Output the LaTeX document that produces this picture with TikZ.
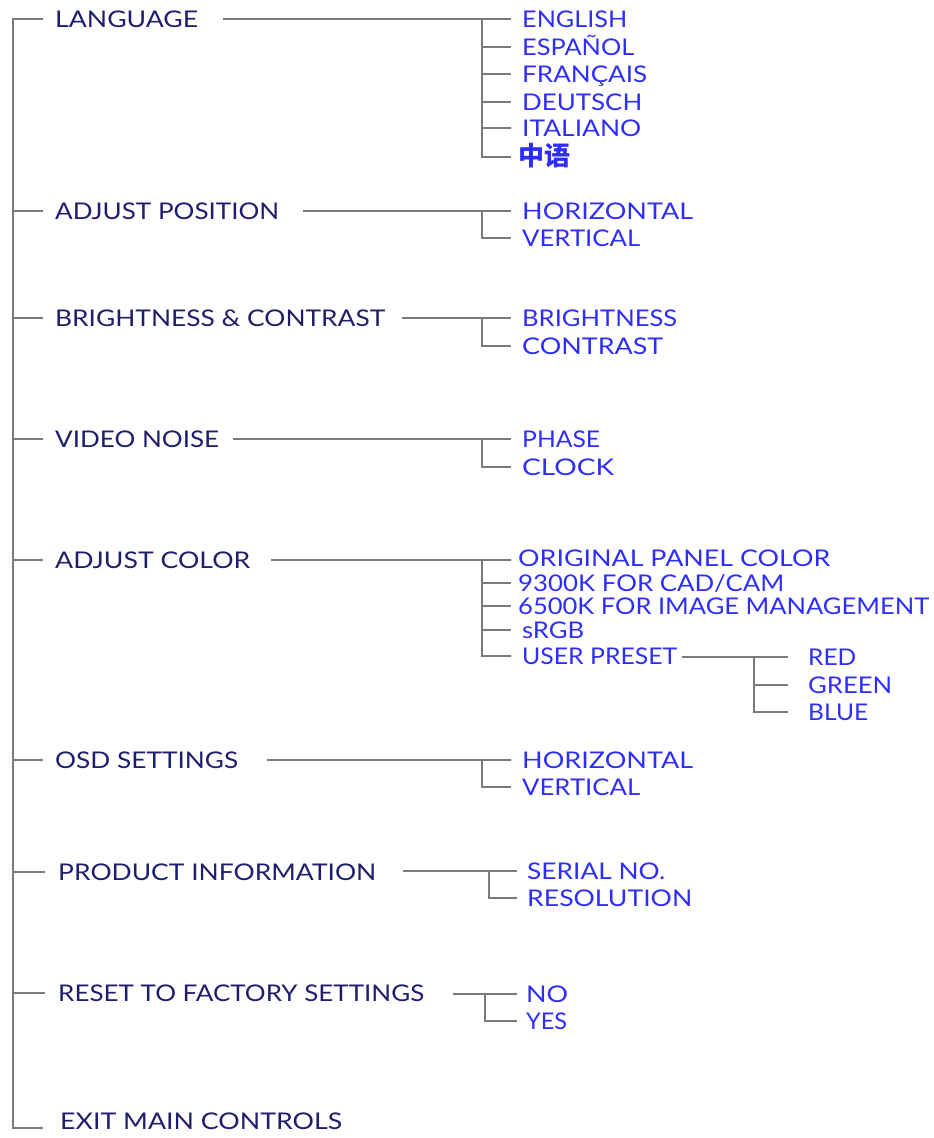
\documentclass[tikz,border=0pt]{standalone}
\usepackage{fontspec}
\usepackage{graphicx}
\setmainfont{Lato}
\newfontfamily\cjk{Noto Sans CJK SC}
\definecolor{navy}{HTML}{1E1E6C}
\definecolor{subblue}{HTML}{2E2EF8}
\definecolor{linegray}{HTML}{7A7A7A}
\newlength\fwlen
\newcommand\fw[2]{\settowidth\fwlen{#2}\pgfmathsetmacro\fwfac{#1/\the\fwlen}\scalebox{\fwfac}[1]{#2}}
\begin{document}
\begin{tikzpicture}[x=1pt,y=-1pt,
  ln/.style={draw=linegray, line width=1.6pt},
  txt/.style={anchor=west, inner sep=0pt, text height=16pt, text depth=0pt, font=\fontsize{23}{23}\selectfont},
  mainitem/.style={txt, text=navy},
  subitem/.style={txt, text=subblue}]
\useasboundingbox (0,0) rectangle (934,1138);

% main items
\node[mainitem] (m1) at (55,19) {\fw{143}{LANGUAGE}};
\node[mainitem] (m2) at (55,211) {\fw{224}{ADJUST POSITION}};
\node[mainitem] (m3) at (55,318) {\fw{330}{BRIGHTNESS \& CONTRAST}};
\node[mainitem] (m4) at (55,439) {\fw{164}{VIDEO NOISE}};
\node[mainitem] (m5) at (55,560) {\fw{195}{ADJUST COLOR}};
\node[mainitem] (m6) at (55,760) {\fw{183}{OSD SETTINGS}};
\node[mainitem] (m7) at (58,872) {\fw{318}{PRODUCT INFORMATION}};
\node[mainitem] (m8) at (58,993) {\fw{366}{RESET TO FACTORY SETTINGS}};
\node[mainitem] (m9) at (60,1121) {\fw{282}{EXIT MAIN CONTROLS}};

% trunk
\coordinate (top) at (13,19);
\coordinate (bot) at (13,1128);
\draw[ln, shorten <=12pt, shorten >=17pt] (m1.west) -- (top) -- (bot) -- (bot -| m9.west);
\foreach \n in {m2,m3,m4,m5,m6}
  \draw[ln, shorten >=12pt] (top |- \n.west) -- (\n.west);
\foreach \n in {m7,m8}
  \draw[ln, shorten >=13pt] (top |- \n.west) -- (\n.west);

% LANGUAGE
\coordinate (s1) at (223,19); \coordinate (b1) at (482,19);
\node[subitem] (l1) at (522,19) {\fw{105}{ENGLISH}};
\node[subitem] (l2) at (522,47) {\fw{112}{ESPAÑOL}};
\node[subitem] (l3) at (522,74) {\fw{125}{FRANÇAIS}};
\node[subitem] (l4) at (522,102) {\fw{120}{DEUTSCH}};
\node[subitem] (l5) at (522,128) {\fw{119}{ITALIANO}};
\node[subitem, font={\fontsize{26}{26}\selectfont\cjk\bfseries}] (l6) at (518,157) {中语};
\draw[ln, shorten >=11pt] (s1) -- (l1.west);
\foreach \n in {l2,l3,l4,l5}
  \draw[ln, shorten >=11pt] (b1 |- \n.west) -- (\n.west);
\draw[ln, shorten >=7pt] (b1) |- (l6.west);

% ADJUST POSITION
\coordinate (s2) at (303,211); \coordinate (b2) at (482,211);
\node[subitem] (p1) at (522,211) {\fw{171}{HORIZONTAL}};
\node[subitem] (p2) at (522,238) {\fw{118}{VERTICAL}};
\draw[ln, shorten >=11pt] (s2) -- (p1.west);
\draw[ln, shorten >=11pt] (b2) |- (p2.west);

% BRIGHTNESS & CONTRAST
\coordinate (s3) at (402,318); \coordinate (b3) at (482,318);
\node[subitem] (c1) at (522,318) {\fw{155}{BRIGHTNESS}};
\node[subitem] (c2) at (522,346) {\fw{141}{CONTRAST}};
\draw[ln, shorten >=11pt] (s3) -- (c1.west);
\draw[ln, shorten >=11pt] (b3) |- (c2.west);

% VIDEO NOISE
\coordinate (s4) at (233,439); \coordinate (b4) at (482,439);
\node[subitem] (v1) at (522,439) {\fw{78}{PHASE}};
\node[subitem] (v2) at (522,467) {\fw{92}{CLOCK}};
\draw[ln, shorten >=11pt] (s4) -- (v1.west);
\draw[ln, shorten >=11pt] (b4) |- (v2.west);

% ADJUST COLOR
\coordinate (s5) at (271,560); \coordinate (b5) at (482,560);
\node[subitem] (a1) at (518,558) {\fw{312}{ORIGINAL PANEL COLOR}};
\node[subitem] (a2) at (518,583) {\fw{266}{9300K FOR CAD/CAM}};
\node[subitem] (a3) at (518,606) {\fw{411}{6500K FOR IMAGE MANAGEMENT}};
\node[subitem] (a4) at (522,630) {\fw{62}{sRGB}};
\node[subitem] (a5) at (522,656) {\fw{155}{USER PRESET}};
\draw[ln, shorten >=7pt] (s5) -- (b5) -- (b5 -| a1.west);
\foreach \n in {a2,a3}
  \draw[ln, shorten >=7pt] (b5 |- \n.west) -- (\n.west);
\draw[ln, shorten >=11pt] (b5 |- a4.west) -- (a4.west);
\draw[ln, shorten >=11pt] (b5) |- (a5.west);

% USER PRESET
\coordinate (s6) at (682,657); \coordinate (b6) at (754,657);
\node[subitem] (u1) at (808,657) {\fw{48}{RED}};
\node[subitem] (u2) at (808,685) {\fw{84}{GREEN}};
\node[subitem] (u3) at (808,712) {\fw{60}{BLUE}};
\draw[ln, shorten >=20pt] (s6) -- (u1.west);
\draw[ln, shorten >=20pt] (b6 |- u2.west) -- (u2.west);
\draw[ln, shorten >=20pt] (b6) |- (u3.west);

% OSD SETTINGS
\coordinate (s7) at (267,760); \coordinate (b7) at (482,760);
\node[subitem] (o1) at (522,760) {\fw{171}{HORIZONTAL}};
\node[subitem] (o2) at (522,787) {\fw{118}{VERTICAL}};
\draw[ln, shorten >=11pt] (s7) -- (o1.west);
\draw[ln, shorten >=11pt] (b7) |- (o2.west);

% PRODUCT INFORMATION
\coordinate (s8) at (403,871); \coordinate (b8) at (489,871);
\node[subitem] (r1) at (527,871) {\fw{138}{SERIAL NO.}};
\node[subitem] (r2) at (527,898) {\fw{165}{RESOLUTION}};
\draw[ln, shorten >=10pt] (s8) -- (r1.west);
\draw[ln, shorten >=10pt] (b8) |- (r2.west);

% RESET
\coordinate (s9) at (453,994); \coordinate (b9) at (485,994);
\node[subitem] (f1) at (526,994) {\fw{42}{NO}};
\node[subitem] (f2) at (526,1021) {\fw{41}{YES}};
\draw[ln, shorten >=9pt] (s9) -- (f1.west);
\draw[ln, shorten >=9pt] (b9) |- (f2.west);
\end{tikzpicture}
\end{document}
